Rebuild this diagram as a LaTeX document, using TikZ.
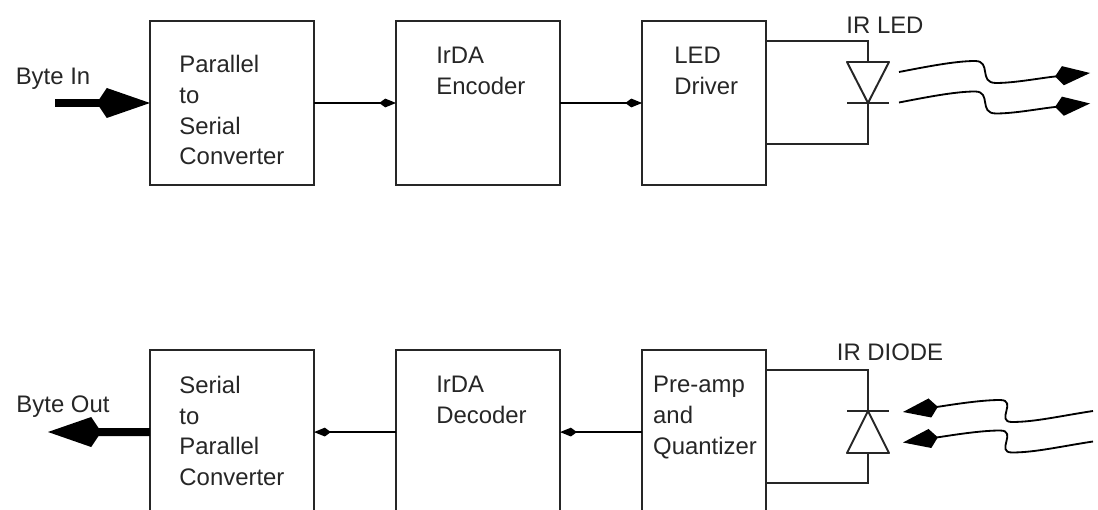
\documentclass[tikz,border=0pt]{standalone}
\usepackage{fontspec}
\setmainfont{Liberation Sans}
\usetikzlibrary{arrows.meta, positioning}
\tikzset{
	block/.style={
		rectangle,
		draw=black!85,
		line width=1.4pt,
		outer sep=0pt,
		minimum width=4.1cm,
		minimum height=4.1cm
	},
	narrow/.style={
		block,
		minimum width=3.1cm
	},
	caption/.style={
		inner sep=0pt,
		align=left,
		text=black!85,
		font=\fontsize{17}{21.8}\selectfont
	},
	wire/.style={
		line width=1.4pt,
		draw=black!85
	},
	arrow/.style={
		-{Kite[length=.42cm,width=.22cm,inset=.15cm]},
		line width=1.2pt
	},
	fatarrow/.style={
		-{Kite[length=1.33cm,width=.75cm,inset=.25cm]},
		line width=5.7pt
	},
	wave/.style={
		-{Kite[length=.88cm,width=.48cm,inset=.2cm]},
		line width=1.3pt
	}
}
\begin{document}
\begin{tikzpicture}[x=.025cm, y=-.025cm, node distance=2.05cm]
		\path [use as bounding box, clip] (0,0) rectangle (1098,510);
		
		% blocks
		\node (par)    [block] at (232,103)            {};
		\node (enc)    [block, right=of par]           {};
		\node (drv)    [narrow, right=of enc]          {};
		\node (ser)    [block, below=4.125cm of par]   {};
		\node (dec)    [block, right=of ser]           {};
		\node (amp)    [narrow, right=of dec]          {};
		
		% block texts
		\node (partxt) [caption, below right=.86cm and .73cm of par.north west]    {Parallel\\to\\Serial\\Converter};
		\node (enctxt) [caption, below right=.645cm and 1cm of enc.north west] {IrDA\\Encoder};
		\node (drvtxt) [caption, below right=.645cm and .8cm of drv.north west]  {LED\\Driver};
		\node (sertxt) [caption, below right=.65cm and .73cm of ser.north west]   {Serial\\to\\Parallel\\Converter};
		\node (dectxt) [caption, below right=.65cm and 1cm of dec.north west] {IrDA\\Decoder};
		\node (amptxt) [caption, below right=.65cm and .27cm of amp.north west]  {Pre-amp\\and\\Quantizer};
		
		% outer texts
		\node (bytein)  [caption] at (53,79)   {Byte In};
		\node (byteout) [caption] at (63,407)  {Byte Out};
		\node (irled)   [caption] at (885,25)  {IR LED};
		\node (irdiode) [caption] at (890,352) {IR DIODE};
		
		% free ends
		\coordinate (in)   at (55,103);
		\coordinate (out)  at (48,432);
		\coordinate (ledt) at (868,41);
		\coordinate (ledb) at (868,144);
		\coordinate (ledk) at (868,62);
		\coordinate (leda) at (868,103);
		\coordinate (pint) at (868,370);
		\coordinate (pinb) at (868,483);
		\coordinate (pink) at (868,411);
		\coordinate (pina) at (868,453);
		
		% main flow
		\draw [fatarrow] (in)  -- (par);
		\draw [arrow]    (par) -- (enc);
		\draw [arrow]    (enc) -- (drv);
		\draw [arrow]    (amp) -- (dec);
		\draw [arrow]    (dec) -- (ser);
		\draw [fatarrow] (ser) -- (out);
		
		% led
		\draw [wire] (drv.east |- ledt) -- (ledt) -- (ledk);
		\draw [wire] (drv.east |- ledb) -- (ledb) -- (leda);
		\draw [wire, line join=round] (847,62) -- (889,62) -- (leda) -- cycle;
		\draw [wire] (847,103) -- (889,103);
		
		% diode
		\draw [wire] (amp.east |- pint) -- (pint) -- (pink);
		\draw [wire] (amp.east |- pinb) -- (pinb) -- (pina);
		\draw [wire, line join=round] (847,453) -- (889,453) -- (pink) -- cycle;
		\draw [wire] (847,411) -- (889,411);
		
		% light
		\foreach \o in {0,30.5} {
			\draw [wave] (899,72+\o) .. controls (925,67+\o) and (955,61+\o) .. (975,61+\o)
				.. controls (992,61+\o) and (978,83+\o) .. (996,83+\o)
				.. controls (1015,83+\o) and (1040,78+\o) .. (1090,73+\o);
			\draw [wave] (1093,411+\o) .. controls (1060,416+\o) and (1035,422+\o) .. (1012,422+\o)
				.. controls (995,422+\o) and (1018,400+\o) .. (1000,400+\o)
				.. controls (980,400+\o) and (950,405+\o) .. (903,412+\o);
		}
		
	\end{tikzpicture}
\end{document}
